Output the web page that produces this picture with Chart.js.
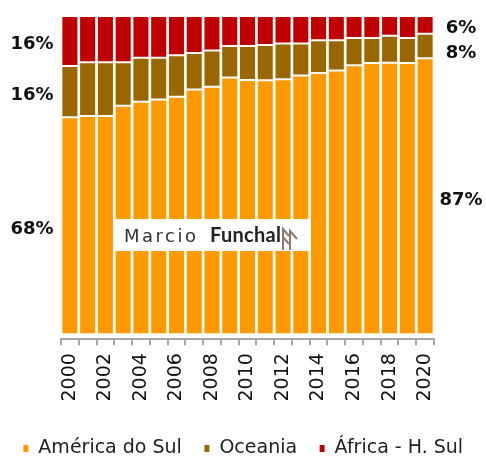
<!DOCTYPE html>
<html>
<head>
<meta charset="utf-8">
<script src="https://cdn.jsdelivr.net/npm/chart.js@4/dist/chart.umd.min.js"></script>
<style>
  html, body { margin: 0; padding: 0; background: #fff; }
  #wrap { width: 486px; height: 457px; }
</style>
</head>
<body>
<div id="wrap"><canvas id="c" width="486" height="457"></canvas></div>
<script>
const years = ['2000','2001','2002','2003','2004','2005','2006','2007','2008','2009','2010',
               '2011','2012','2013','2014','2015','2016','2017','2018','2019','2020'];
const americaDoSul = [68.2,68.6,68.6,71.8,73.1,73.8,74.6,76.9,77.8,80.7,79.9,79.8,80.1,81.3,82.1,82.9,84.5,85.2,85.3,85.2,86.7];
const oceania      = [16.1,16.9,16.9,13.7,13.8,13.1,13.1,11.5,11.4, 9.9,10.7,11.1,11.3,10.1,10.3, 9.5, 8.6, 7.9, 8.5, 7.9, 7.7];
const africaHSul   = [15.7,14.5,14.5,14.5,13.1,13.1,12.3,11.6,10.8, 9.4, 9.4, 9.1, 8.6, 8.6, 7.6, 7.6, 6.9, 6.9, 6.2, 6.9, 5.6];
const seriesNames  = ['América do Sul','Oceania','África - H. Sul'];
const seriesColors = ['#FF9900','#996600','#C00000'];

const endLabels = {
  id: 'endLabels',
  afterDatasetsDraw(chart) {
    const ctx = chart.ctx;
    ctx.save();
    ctx.font = 'bold 18px "DejaVu Sans"';
    ctx.fillStyle = '#111';
    ctx.textAlign = 'center';
    ctx.textBaseline = 'middle';
    const n = years.length;
    [[0, 32], [n - 1, 461]].forEach(([idx, x]) => {
      let prev = -Infinity;
      for (let d = chart.data.datasets.length - 1; d >= 0; d--) {
        const el = chart.getDatasetMeta(d).data[idx];
        let y = (el.y + el.base) / 2 + 3.5;
        if (y < prev + 25) y = prev + 25;
        prev = y;
        const v = chart.data.datasets[d].data[idx];
        ctx.fillText(Math.round(v) + '%', x, y);
      }
    });
    ctx.restore();
  }
};

const watermark = {
  id: 'watermark',
  afterDatasetsDraw(chart) {
    const ctx = chart.ctx;
    ctx.save();
    ctx.fillStyle = '#fff';
    ctx.fillRect(114, 219, 195, 32);
    ctx.textBaseline = 'alphabetic';
    ctx.textAlign = 'left';
    ctx.fillStyle = '#333';
    ctx.font = '18px "DejaVu Sans"';
    ctx.letterSpacing = '2.5px';
    ctx.fillText('Marcio', 124, 242);
    ctx.letterSpacing = '0.3px';
    ctx.font = 'bold 20px Lato';
    ctx.fillStyle = '#222';
    ctx.fillText('Funchal', 210, 242);
    ctx.letterSpacing = '0px';
    ctx.strokeStyle = '#8a7a70';
    ctx.lineWidth = 2;
    ctx.beginPath();
    ctx.moveTo(283, 250); ctx.lineTo(283, 229);
    ctx.lineTo(289, 236);
    ctx.moveTo(283, 237); ctx.lineTo(289, 244);
    ctx.moveTo(290, 250); ctx.lineTo(290, 231);
    ctx.lineTo(297, 239);
    ctx.stroke();
    ctx.restore();
  }
};

new Chart(document.getElementById('c'), {
  type: 'bar',
  data: {
    labels: years,
    datasets: [americaDoSul, oceania, africaHSul].map((d, i) => ({
      label: seriesNames[i],
      data: d,
      backgroundColor: seriesColors[i],
      borderColor: '#ffffff',
      borderWidth: 1,
      borderSkipped: false,
      barPercentage: 0.96,
      categoryPercentage: 1.0
    }))
  },
  options: {
    responsive: false,
    animation: false,
    layout: { padding: { left: 0, right: 0, top: 16, bottom: -11 } },
    plugins: {
      legend: {
        position: 'bottom',
        labels: {
          boxWidth: 6,
          boxHeight: 8,
          padding: 22,
          color: '#222',
          font: { family: '"DejaVu Sans"', size: 19 }
        }
      },
      tooltip: { enabled: false }
    },
    scales: {
      x: {
        stacked: true,
        grid: { display: true, drawOnChartArea: false, drawTicks: true, tickLength: 6, color: '#a6a6a6', lineWidth: 2 },
        border: { display: true, color: '#a6a6a6', width: 2 },
        ticks: {
          autoSkip: false,
          maxRotation: 90,
          minRotation: 90,
          padding: 8,
          color: '#111',
          font: { family: '"DejaVu Sans"', size: 19 },
          callback: function(v, i) { return i % 2 === 0 ? years[i] : ''; }
        },
        afterFit(axis) { axis.height += 7.5; }
      },
      y: {
        stacked: true,
        position: 'left',
        min: -1.5,
        max: 100,
        grid: { display: false },
        border: { display: false },
        ticks: { display: false },
        afterFit(axis) { axis.width = 61; }
      },
      yr: {
        position: 'right',
        min: 0,
        max: 100,
        grid: { display: false },
        border: { display: false },
        ticks: { display: false },
        afterFit(axis) { axis.width = 52; }
      }
    }
  },
  plugins: [endLabels, watermark]
});
</script>
</body>
</html>
